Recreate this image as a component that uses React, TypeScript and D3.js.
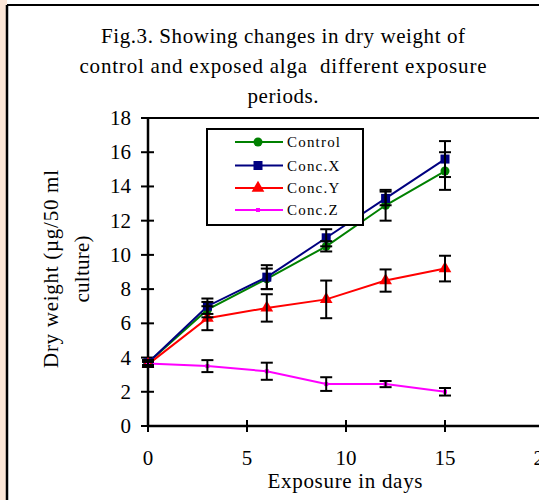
import * as d3 from "d3";

const days = [0, 3, 6, 9, 12, 15];
const controlVals = [3.7, 6.8, 8.6, 10.5, 12.9, 14.9];
const controlErr = [0.15, 0.45, 0.6, 0.3, 0.9, 1.1];
const concXVals = [3.7, 7.0, 8.7, 11.0, 13.3, 15.6];
const concXErr = [0.15, 0.45, 0.7, 0.5, 0.4, 1.05];
const concYVals = [3.6, 6.3, 6.9, 7.4, 8.5, 9.2];
const concYErr = [0.15, 0.7, 0.8, 1.1, 0.65, 0.75];
const concZVals = [3.65, 3.5, 3.2, 2.45, 2.45, 2.0];
const concZErr = [0.1, 0.35, 0.5, 0.4, 0.18, 0.22];
const yTicks = [0, 2, 4, 6, 8, 10, 12, 14, 16, 18];
const xTicks = [0, 5, 10, 15, 20];
const titleLines = [
  "Fig.3. Showing changes in dry weight of",
  "control and exposed alga  different exposure",
  "periods.",
];
// measured line widths in the reference
const titleWidths = [364, 407, 71];

type Series = {
  name: string;
  color: string;
  shape: string;
  vals: number[];
  err: number[];
};

const series: Series[] = [
  { name: "Control", color: "#008000", shape: "circle", vals: controlVals, err: controlErr },
  { name: "Conc.X", color: "#000080", shape: "square", vals: concXVals, err: concXErr },
  { name: "Conc.Y", color: "#ff0000", shape: "triangle", vals: concYVals, err: concYErr },
  { name: "Conc.Z", color: "#ff00ff", shape: "small", vals: concZVals, err: concZErr },
];

const font = "'Liberation Serif', 'Times New Roman', serif";

const Marker = ({ shape, color, x, y }: { shape: string; color: string; x: number; y: number }) => {
  if (shape === "circle") return <circle cx={x} cy={y} r={4.5} fill={color} />;
  if (shape === "square") return <rect x={x - 4.5} y={y - 4.5} width={9} height={9} fill={color} />;
  if (shape === "triangle") {
    const p = d3.symbol(d3.symbolTriangle, 70)();
    return <path d={p as string} transform={`translate(${x},${y})`} fill={color} />;
  }
  return <rect x={x - 2} y={y - 2} width={4} height={4} fill={color} />;
};

export default function App() {
  const width = 539;
  const height = 500;
  const left = 148;
  const top = 118;
  const bottom = 426;

  const x = d3.scaleLinear().domain([0, 20]).range([left, left + 396]);
  const y = d3.scaleLinear().domain([0, 18]).range([bottom, top]);

  const line = d3
    .line<number>()
    .x((_, i) => x(days[i]))
    .y((d) => y(d));

  const legendRows = [142, 165.5, 188, 210];

  return (
    <svg
      width={width}
      height={height}
      style={{ position: "absolute", left: 0, top: 0, background: "#fff" }}
      fontFamily={font}
    >
      <rect x={0} y={0} width={7} height={height} fill="#fde6d6" />
      <rect x={7} y={0} width={width} height={height} fill="#fff" />
      <line x1={7} y1={5} x2={width} y2={5} stroke="#000" strokeWidth={2} />
      <line x1={7} y1={5} x2={7} y2={height} stroke="#000" strokeWidth={2.5} />

      {titleLines.map((t, i) => (
        <text
          key={i}
          x={283}
          y={43 + i * 30}
          textAnchor="middle"
          fontSize={21}
          textLength={titleWidths[i]}
          lengthAdjust="spacing"
          style={{ whiteSpace: "pre" }}
        >
          {t}
        </text>
      ))}

      {/* plot frame */}
      <line x1={left} y1={top} x2={width} y2={top} stroke="#000" strokeWidth={2} />
      <line x1={left} y1={top} x2={left} y2={bottom} stroke="#000" strokeWidth={2.5} />
      <line x1={left} y1={bottom} x2={width} y2={bottom} stroke="#000" strokeWidth={2.5} />

      {yTicks.map((t) => (
        <g key={t}>
          <line x1={left - 7} x2={left + 6} y1={y(t)} y2={y(t)} stroke="#000" strokeWidth={2} />
          <text x={131} y={y(t) + 7} textAnchor="end" fontSize={21}>
            {t}
          </text>
        </g>
      ))}
      {xTicks.map((t) => (
        <g key={t}>
          <line x1={x(t)} x2={x(t)} y1={bottom - 6} y2={bottom + 6} stroke="#000" strokeWidth={2} />
          <text x={x(t)} y={465} textAnchor="middle" fontSize={21}>
            {t}
          </text>
        </g>
      ))}

      <text x={345} y={488} textAnchor="middle" fontSize={21} textLength={155} lengthAdjust="spacing">
        Exposure in days
      </text>
      <g transform="translate(58,269) rotate(-90)">
        <text x={0} y={0} textAnchor="middle" fontSize={21} textLength={198} lengthAdjust="spacing">
          Dry weight (µg/50 ml
        </text>
        <text x={0} y={31} textAnchor="middle" fontSize={21} textLength={67} lengthAdjust="spacing">
          culture)
        </text>
      </g>

      {series.map((s) => (
        <path key={s.name} d={line(s.vals) as string} fill="none" stroke={s.color} strokeWidth={2} />
      ))}
      {series.map((s) =>
        s.vals.map((v, i) => (
          <Marker key={s.name + i} shape={s.shape} color={s.color} x={x(days[i])} y={y(v)} />
        ))
      )}
      {series.map((s) =>
        s.vals.map((v, i) => {
          const cx = x(days[i]);
          const y1 = y(v + s.err[i]);
          const y2 = y(v - s.err[i]);
          return (
            <g key={"e" + s.name + i} stroke="#000" strokeWidth={2}>
              <line x1={cx} x2={cx} y1={y1} y2={y2} />
              <line x1={cx - 6} x2={cx + 6} y1={y1} y2={y1} />
              <line x1={cx - 6} x2={cx + 6} y1={y2} y2={y2} />
            </g>
          );
        })
      )}

      {/* legend */}
      <rect x={207} y={129} width={156} height={96} fill="#fff" stroke="#000" strokeWidth={2} />
      {series.map((s, i) => (
        <g key={"l" + s.name}>
          <line x1={235} x2={283} y1={legendRows[i]} y2={legendRows[i]} stroke={s.color} strokeWidth={2} />
          <Marker shape={s.shape} color={s.color} x={258} y={legendRows[i]} />
          <text x={287} y={legendRows[i] + 5} fontSize={15} letterSpacing={1.2}>
            {s.name}
          </text>
        </g>
      ))}
    </svg>
  );
}
